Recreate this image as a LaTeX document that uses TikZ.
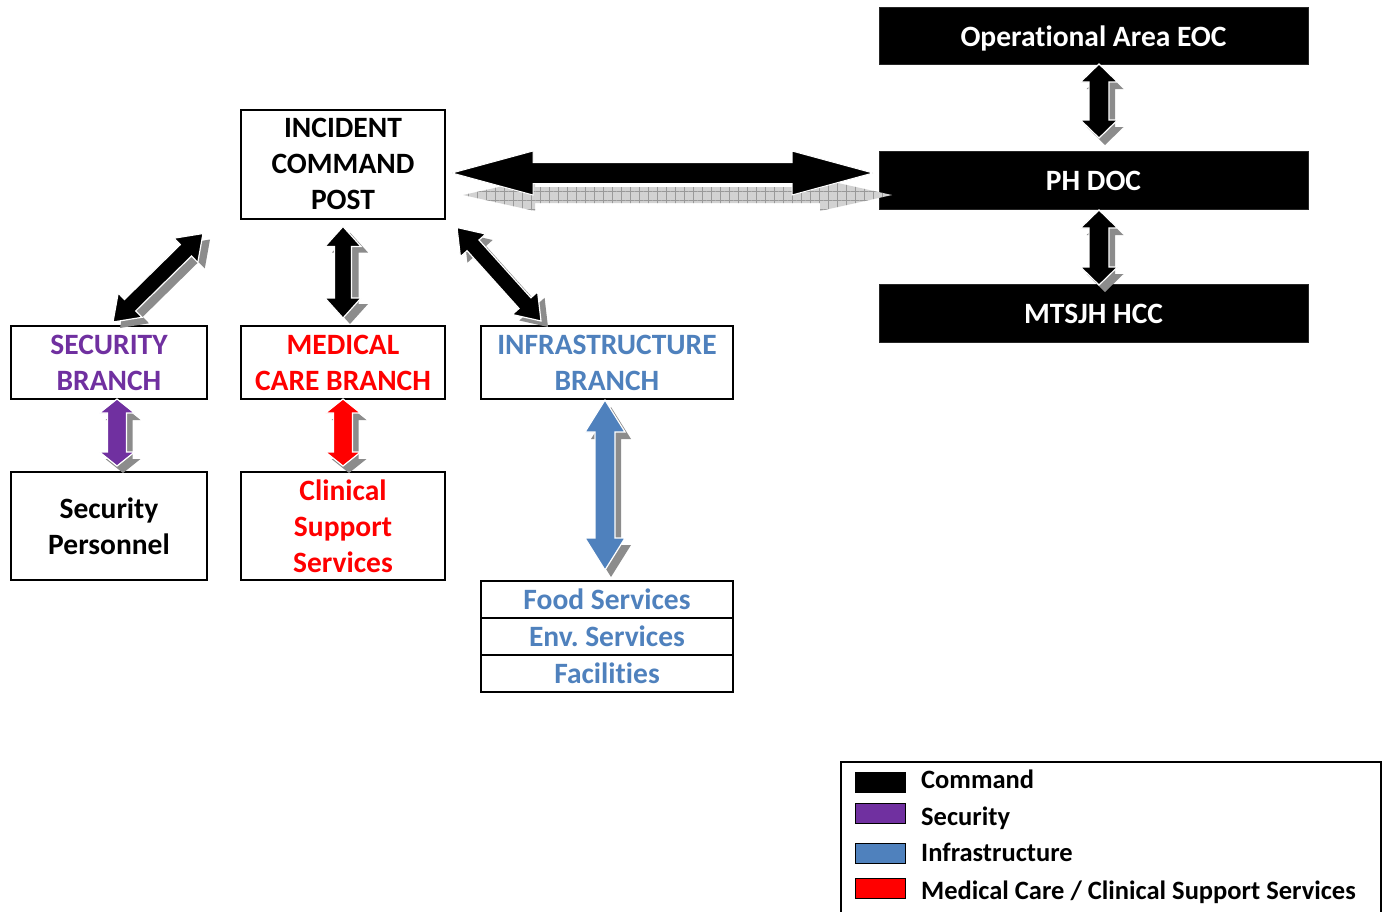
\documentclass[tikz,border=0pt]{standalone}
\usepackage{fontspec}
\setmainfont{Carlito}[Ligatures=NoCommon]
\usetikzlibrary{calc,patterns.meta}
\definecolor{secpurple}{HTML}{7030A0}
\definecolor{infblue}{HTML}{4F81BD}
\definecolor{medred}{HTML}{FF0000}
\colorlet{shadowgray}{black!45}

% polygon of a double block arrow from #1 to #2
% #3 head length, #4 head half width, #5 shaft half width, #6 style
\newcommand\arrowpoly[6]{%
  \path[#6] (#1)
   -- ($(#1)!#3pt!(#2)!#4pt!90:(#2)$)
   -- ($(#1)!#3pt!(#2)!#5pt!90:(#2)$)
   -- ($(#2)!#3pt!(#1)!#5pt!-90:(#1)$)
   -- ($(#2)!#3pt!(#1)!#4pt!-90:(#1)$)
   -- (#2)
   -- ($(#2)!#3pt!(#1)!#4pt!90:(#1)$)
   -- ($(#2)!#3pt!(#1)!#5pt!90:(#1)$)
   -- ($(#1)!#3pt!(#2)!#5pt!-90:(#2)$)
   -- ($(#1)!#3pt!(#2)!#4pt!-90:(#2)$)
   -- cycle;}

% block arrow with a drop shadow; #6 fill colour, #7 shadow offset
\newcommand\blockarrow[7]{%
  \coordinate (baSA) at ($(#1)+(#7)$);
  \coordinate (baSB) at ($(#2)+(#7)$);
  \arrowpoly{baSA}{baSB}{#3}{#4}{#5}{fill=shadowgray}
  \arrowpoly{#1}{#2}{#3}{#4}{#5}{fill=#6, draw=white, line width=1.2pt}}

\tikzset{
  boxfont/.style={font=\fontsize{29.5}{36}\selectfont\bfseries\frenchspacing},
  box/.style={boxfont, draw=black, line width=2pt, fill=white, align=center,
    inner sep=0pt, outer sep=0pt},
  darkbox/.style={boxfont, fill=black, draw=black!85, line width=1pt, text=white,
    align=center, inner sep=0pt, outer sep=0pt, minimum width=429pt, minimum height=57pt,
    text height=25.7pt, text depth=3.8pt},
  listbox/.style={box, text=infblue, minimum width=252pt, minimum height=37pt},
  swatch/.style={draw=black, line width=1pt, minimum width=50pt, minimum height=20pt,
    inner sep=0pt},
  legtext/.style={font=\fontsize{26.5}{30}\selectfont\bfseries, anchor=base west, inner sep=0pt},
  mainshadow/.style={preaction={fill=gray!35},
    pattern={Hatch[angle=0,distance=9pt,line width=0.7pt]}, pattern color=gray!80}
}

\begin{document}
\begin{tikzpicture}[x=1pt,y=-1pt]
\useasboundingbox (0,0) rectangle (1387,911);

% nodes
\node[box, minimum width=204pt, minimum height=109pt] (icp) at (343,164)
  {INCIDENT\\COMMAND\\POST};
\node[box, text=secpurple, minimum width=196pt, minimum height=73pt] (sec) at (109,362.5)
  {SECURITY\\BRANCH};
\node[box, text=medred, minimum width=204pt, minimum height=73pt] (med) at (343,362.5)
  {MEDICAL\\CARE BRANCH};
\node[box, text=infblue, minimum width=252pt, minimum height=73pt] (infra) at (607,362.5)
  {INFRASTRUCTURE\\BRANCH};
\node[box, minimum width=196pt, minimum height=108pt] (secp) at (109,526)
  {Security\\Personnel};
\node[box, text=medred, minimum width=204pt, minimum height=108pt] (csp) at (343,526)
  {Clinical\\Support\\Services};
\node[listbox] (food) at (607,599.5) {Food Services};
\node[listbox] (env) at (607,636.5) {Env.\ Services};
\node[listbox] (fac) at (607,673.5) {Facilities};

\node[darkbox] (eoc) at (1093.5,35.5) {Operational Area EOC};
\node[darkbox, minimum height=58pt] (phdoc) at (1093.5,180) {PH DOC};
\node[darkbox, minimum height=58pt] (hcc) at (1093.5,313) {MTSJH HCC};

% main horizontal arrow ICP <-> PH DOC
\coordinate (m1) at ($(icp.east)+(7,9)$);
\coordinate (m2) at ($(phdoc.west)+(-6,-7)$);
\coordinate (ms1) at ($(m1)+(11,22)$);
\coordinate (ms2) at ($(m2)+(19,22)$);
\arrowpoly{ms1}{ms2}{72}{16}{8}{mainshadow}
\arrowpoly{m1}{m2}{81}{22}{10.5}{fill=black, draw=white, line width=1pt}

% ICP <-> Medical care branch
\coordinate (a1s) at ($(icp.south)+(0,8)$);
\coordinate (a1e) at ($(med.north)+(0,-8)$);
\blockarrow{a1s}{a1e}{20}{18}{8.5}{black}{7,6}

% ICP <-> Security branch
\coordinate (a2s) at ($(icp.south west)+(-38,15)$);
\coordinate (a2e) at ($(sec.north)+(4,-4)$);
\blockarrow{a2s}{a2e}{24}{17}{8}{black}{7,6}

% ICP <-> Infrastructure branch
\coordinate (a3s) at ($(icp.south east)+(12,9)$);
\coordinate (a3e) at ($(infra.north west)+(60,-5)$);
\blockarrow{a3s}{a3e}{24}{17}{8}{black}{7,6}

% Security branch <-> Security personnel
\coordinate (a4s) at ($(sec.south)+(8,0)$);
\coordinate (a4e) at ($(secp.north)+(8,-6)$);
\blockarrow{a4s}{a4e}{14}{17.5}{9.5}{secpurple}{6,7}

% Medical care branch <-> Clinical support services
\coordinate (a5s) at ($(med.south)+(0,0)$);
\coordinate (a5e) at ($(csp.north)+(0,-6)$);
\blockarrow{a5s}{a5e}{14}{17.5}{9.5}{medred}{6,7}

% Infrastructure branch <-> services
\coordinate (a6s) at ($(infra.south)+(-2,1)$);
\coordinate (a6e) at ($(food.north)+(-2,-11)$);
\blockarrow{a6s}{a6e}{32}{20}{10}{infblue}{6,7}

% EOC <-> PH DOC, PH DOC <-> HCC
\coordinate (a7s) at ($(eoc.south)+(5.5,0)$);
\coordinate (a7e) at ($(phdoc.north)+(5.5,-13)$);
\blockarrow{a7s}{a7e}{18}{18.5}{10}{black}{6,7}
\coordinate (a8s) at ($(phdoc.south)+(5.5,1)$);
\coordinate (a8e) at ($(hcc.north)+(5.5,1)$);
\blockarrow{a8s}{a8e}{18}{18.5}{10}{black}{6,7}

% legend
\draw[line width=1.5pt] (841,762) rectangle (1381,930);
\node[swatch, fill=black] (lg1) at (880,782) {};
\node[swatch, fill=secpurple] (lg2) at (880,813) {};
\node[swatch, fill=infblue] (lg3) at (880,853.5) {};
\node[swatch, fill=medred] (lg4) at (880,888.5) {};
\node[legtext] (lt1) at (921,788) {Command};
\node[legtext] (lt2) at (921,825) {Security};
\node[legtext] (lt3) at (921,861) {Infrastructure};
\node[legtext] (lt4) at (921,899) {Medical Care / Clinical Support Services};
\end{tikzpicture}
\end{document}
